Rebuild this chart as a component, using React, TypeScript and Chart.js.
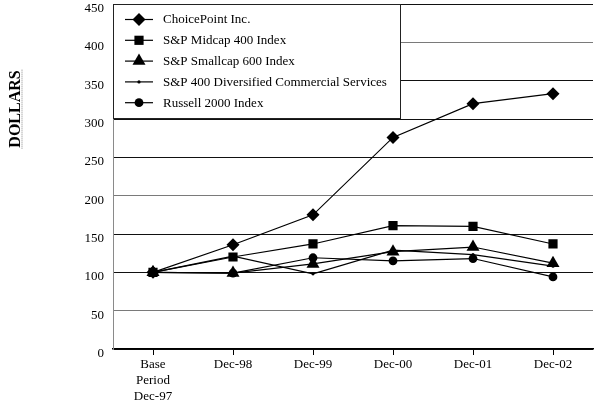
import React, { useEffect, useRef } from "react";
import { Chart, registerables } from "chart.js";
import { drawPoint } from "chart.js/helpers";

Chart.register(...registerables);

const categories: (string | string[])[] = [["Base", "Period", "Dec-97"], "Dec-98", "Dec-99", "Dec-00", "Dec-01", "Dec-02"];

const choicePoint = [100, 136, 175, 276, 320, 333];
const midcap400 = [100, 120, 137, 161, 160, 137];
const smallcap600 = [100, 99, 111, 127, 133, 112];
const diversified400 = [100, 121, 98, 129, 123, 108];
const russell2000 = [100, 99, 119, 115, 118, 94];

const seriesLabels = [
  "ChoicePoint Inc.",
  "S&P Midcap 400 Index",
  "S&P Smallcap 600 Index",
  "S&P 400 Diversified Commercial Services",
  "Russell 2000 Index",
];

const yAxisTitle = "DOLLARS";
const yMin = 0;
const yMax = 450;
const yStep = 50;

const FONT = "'Liberation Serif', 'Times New Roman', serif";

const styles = [
  { pointStyle: "rectRot", radius: 6.5 },
  { pointStyle: "rect", radius: 6.5 },
  { pointStyle: "triangle", radius: 7.5 },
  { pointStyle: "circle", radius: 1.6 },
  { pointStyle: "circle", radius: 4.4 },
];

const legendBoxPlugin = {
  id: "legendBox",
  afterDraw(chart: any) {
    const ctx = chart.ctx;
    const area = chart.chartArea;
    const left = area.left;
    const top = area.top;
    const right = 401;
    const bottom = 118;
    ctx.save();
    ctx.fillStyle = "#fff";
    ctx.fillRect(left, top, right - left, bottom - top);
    ctx.strokeStyle = "#222";
    ctx.lineWidth = 1;
    ctx.strokeRect(left + 0.5, top + 0.5, right - left - 1, bottom - top);
    chart.data.datasets.forEach((ds: any, i: number) => {
      const y = top + 15.5 + i * 20.8;
      ctx.strokeStyle = "#000";
      ctx.lineWidth = 1.2;
      ctx.beginPath();
      ctx.moveTo(125, y);
      ctx.lineTo(153, y);
      ctx.stroke();
      ctx.fillStyle = "#000";
      drawPoint(ctx, { pointStyle: ds.pointStyle, radius: ds.pointRadius, borderWidth: 0, rotation: 0 } as any, 139, y);
      ctx.fillStyle = "#000";
      ctx.font = `13px ${FONT}`;
      ctx.textAlign = "left";
      ctx.textBaseline = "middle";
      ctx.fillText(ds.label, 163, y + 0.5);
    });
    ctx.restore();

    // Y axis title, rotated, bold, underlined
    ctx.save();
    ctx.translate(19.5, 109);
    ctx.rotate(-Math.PI / 2);
    ctx.font = `bold 16px ${FONT}`;
    ctx.fillStyle = "#000";
    ctx.textAlign = "center";
    ctx.textBaseline = "alphabetic";
    ctx.fillText(yAxisTitle, 0, 0);
    const w = ctx.measureText(yAxisTitle).width;
    ctx.strokeStyle = "#888";
    ctx.lineWidth = 1;
    ctx.setLineDash([1, 1]);
    ctx.beginPath();
    ctx.moveTo(-w / 2 - 1, 2.5);
    ctx.lineTo(w / 2 + 1, 2.5);
    ctx.stroke();
    ctx.restore();
  },
};

export default function App() {
  const ref = useRef<HTMLCanvasElement | null>(null);

  useEffect(() => {
    if (!ref.current) return;
    const seriesValues = [choicePoint, midcap400, smallcap600, diversified400, russell2000];
    const chart = new Chart(ref.current, {
      type: "line",
      data: {
        labels: categories as any,
        datasets: seriesValues.map((vals, i) => ({
          label: seriesLabels[i],
          data: vals,
          borderColor: "#000",
          backgroundColor: "#000",
          borderWidth: 1.2,
          pointStyle: styles[i].pointStyle as any,
          pointRadius: styles[i].radius,
          pointBorderWidth: 0,
          pointBackgroundColor: "#000",
          tension: 0,
          fill: false,
        })),
      },
      options: {
        animation: false,
        responsive: false,
        maintainAspectRatio: false,
        layout: { autoPadding: false, padding: { top: 4, right: 1, left: 0, bottom: 0 } },
        plugins: {
          legend: { display: false },
          tooltip: { enabled: false },
          title: { display: false },
        },
        scales: {
          x: {
            type: "category",
            offset: true,
            afterFit: (s: any) => {
              s.height = 58;
              s.paddingLeft = 0;
              s.paddingRight = 0;
            },
            grid: {
              offset: false,
              drawOnChartArea: false,
              drawTicks: true,
              tickLength: 6,
              tickColor: "#000",
              lineWidth: 1,
            },
            border: { display: true, color: "#000", width: 1.5 },
            ticks: {
              color: "#000",
              padding: 2,
              maxRotation: 0,
              autoSkip: false,
              font: { family: FONT, size: 13, lineHeight: 1.23 },
            },
          },
          y: {
            min: yMin,
            max: yMax,
            afterFit: (s: any) => {
              s.width = 113;
              s.paddingTop = 0;
              s.paddingBottom = 0;
            },
            grid: {
              drawTicks: false,
              color: (c: any) => {
                const v = c.tick ? c.tick.value : 0;
                return v === 50 || v === 200 || v === 400 ? "#7a7a7a" : "#111";
              },
              lineWidth: 1,
            },
            border: { display: true, color: "#8a8a8a", width: 1 },
            ticks: {
              stepSize: yStep,
              color: "#000",
              padding: 9,
              labelOffset: 4.5,
              font: { family: FONT, size: 13 },
            },
          },
        },
      },
      plugins: [legendBoxPlugin],
    });
    return () => chart.destroy();
  }, []);

  return (
    <div style={{ position: "absolute", left: 0, top: 0, width: 594, height: 407, background: "#fff" }}>
      <canvas ref={ref} width={594} height={407} style={{ display: "block" }} />
    </div>
  );
}
